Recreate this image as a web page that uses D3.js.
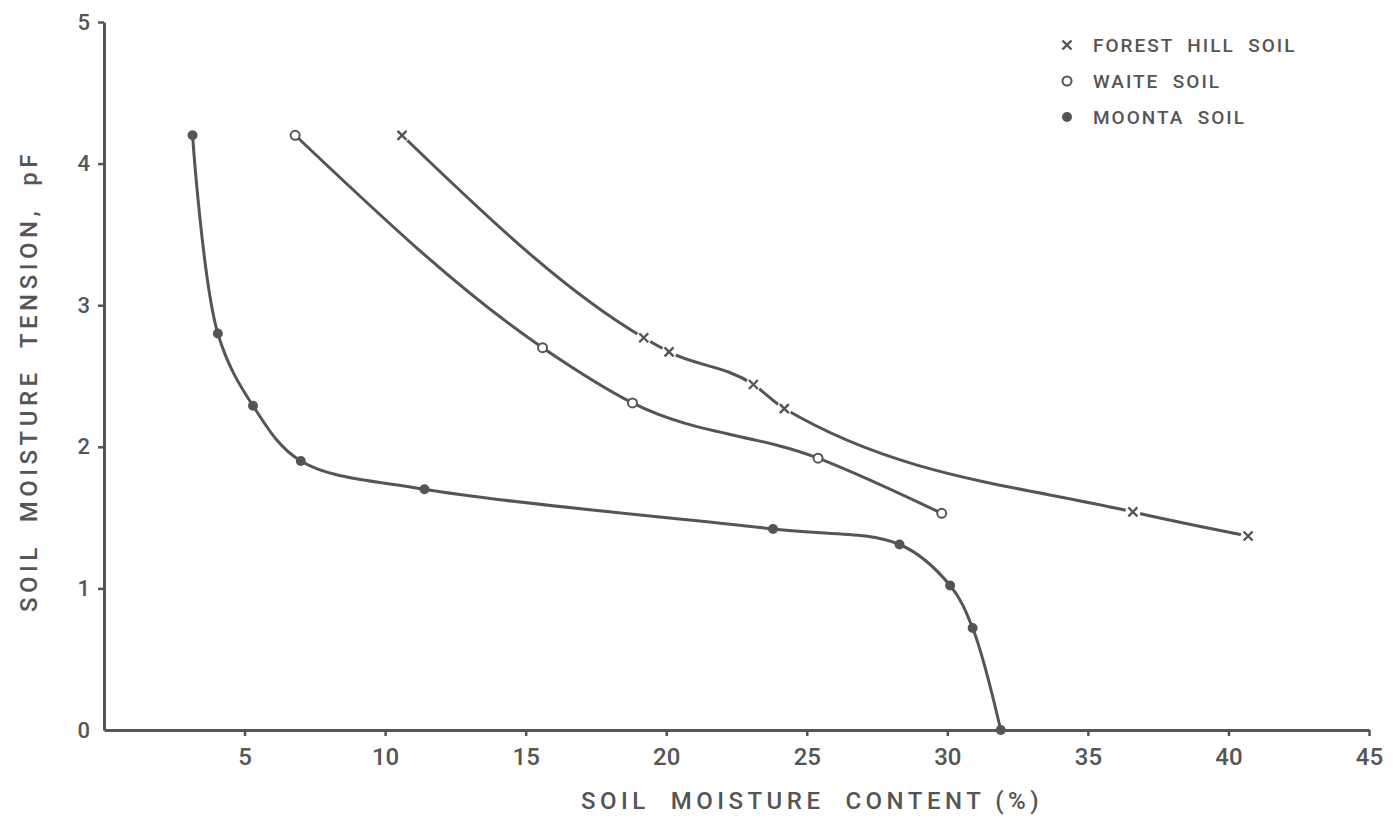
<!DOCTYPE html>
<html>
<head>
    <title>Soil moisture characteristics</title>
    <script src="https://d3js.org/d3.v7.min.js"></script>
    <style>
        html, body {
            margin: 0;
            padding: 0;
            background: #ffffff;
        }
        svg text {
            font-family: Roboto, "DejaVu Sans Condensed", "DejaVu Sans", sans-serif;
            font-weight: 500;
            fill: #555555;
        }
    </style>
</head>
<body>
<div id="chart"></div>
<script>
    // values
    const xTicks = [5, 10, 15, 20, 25, 30, 35, 40, 45];
    const yTicks = [0, 1, 2, 3, 4, 5];

    const forestHillX = [10.6, 19.2, 20.1, 23.1, 24.2, 36.6, 40.7];
    const forestHillY = [4.2, 2.77, 2.67, 2.44, 2.27, 1.54, 1.37];

    const waiteX = [6.8, 15.6, 18.8, 25.4, 29.8];
    const waiteY = [4.2, 2.7, 2.31, 1.92, 1.53];

    const moontaX = [3.15, 4.05, 5.3, 7.0, 11.4, 23.8, 28.3, 30.1, 30.9, 31.9];
    const moontaY = [4.2, 2.8, 2.29, 1.9, 1.7, 1.42, 1.31, 1.02, 0.72, 0.0];

    const legendNames = ["FOREST  HILL  SOIL", "WAITE  SOIL", "MOONTA  SOIL"];

    const width = 1393;
    const height = 839;
    const ink = "#555555";

    const svg = d3.select("#chart")
        .append("svg")
        .attr("width", width)
        .attr("height", height);

    const x = d3.scaleLinear().domain([0, 45]).range([104, 1369]);
    const y = d3.scaleLinear().domain([0, 5]).range([730, 22]);

    // axes
    const xAxis = svg.append("g")
        .attr("transform", `translate(0,${y(0)})`)
        .call(d3.axisBottom(x).tickValues(xTicks).tickFormat(d3.format("d"))
            .tickSize(6).tickPadding(12).tickSizeOuter(0));
    const yAxis = svg.append("g")
        .attr("transform", `translate(${x(0)},0)`)
        .call(d3.axisLeft(y).tickValues(yTicks).tickFormat(d3.format("d"))
            .tickSize(6).tickPadding(8).tickSizeOuter(0));

    [xAxis, yAxis].forEach(g => {
        g.select(".domain").attr("stroke", ink).attr("stroke-width", 3);
        g.selectAll(".tick line").attr("stroke", ink).attr("stroke-width", 2.5);
        g.selectAll(".tick text").attr("fill", ink);
    });
    xAxis.selectAll(".tick text").style("font-size", "24px");
    yAxis.selectAll(".tick text").style("font-size", "22px");
    yAxis.selectAll(".tick").filter(d => d === 0).select("line").remove();

    // axis titles
    svg.append("text")
        .text("SOIL  MOISTURE  CONTENT (%)")
        .attr("x", 812)
        .attr("y", 809)
        .attr("text-anchor", "middle")
        .style("font-size", "24px")
        .style("letter-spacing", "4.5px")
        .style("white-space", "pre");

    svg.append("text")
        .text("SOIL  MOISTURE  TENSION,  pF")
        .attr("transform", "translate(37,381) rotate(-90)")
        .attr("text-anchor", "middle")
        .style("font-size", "24px")
        .style("letter-spacing", "4.5px")
        .style("white-space", "pre");

    // curves
    const smooth = d3.line()
        .x(d => x(d[0]))
        .y(d => y(d[1]))
        .curve(d3.curveMonotoneX);
    const bendy = d3.line()
        .x(d => x(d[0]))
        .y(d => y(d[1]))
        .curve(d3.curveCatmullRom.alpha(0.5));

    const series = [
        { xs: forestHillX, ys: forestHillY, kind: "cross", line: smooth },
        { xs: waiteX, ys: waiteY, kind: "open", line: smooth },
        { xs: moontaX, ys: moontaY, kind: "filled", line: bendy }
    ];

    series.forEach(s => {
        const pts = d3.zip(s.xs, s.ys);
        svg.append("path")
            .datum(pts)
            .attr("d", s.line)
            .attr("fill", "none")
            .attr("stroke", ink)
            .attr("stroke-width", 3);

        const g = svg.append("g");
        pts.forEach(p => drawMarker(g, x(p[0]), y(p[1]), s.kind, true));
    });

    function drawMarker(g, cx, cy, kind, gap) {
        if (kind === "cross") {
            if (gap) {
                g.append("circle").attr("cx", cx).attr("cy", cy).attr("r", 7.5).attr("fill", "#ffffff");
            }
            const r = 4.5;
            g.append("path")
                .attr("d", `M${cx - r},${cy - r}L${cx + r},${cy + r}M${cx - r},${cy + r}L${cx + r},${cy - r}`)
                .attr("stroke", ink)
                .attr("stroke-width", 2.4);
        } else if (kind === "open") {
            g.append("circle")
                .attr("cx", cx).attr("cy", cy).attr("r", 4.5)
                .attr("fill", "#ffffff")
                .attr("stroke", ink)
                .attr("stroke-width", 2);
        } else {
            g.append("circle")
                .attr("cx", cx).attr("cy", cy).attr("r", 5)
                .attr("fill", ink);
        }
    }

    // legend
    const legendY = [45, 81, 117];
    const legend = svg.append("g");
    series.forEach((s, i) => {
        drawMarker(legend, 1067, legendY[i], s.kind, false);
        legend.append("text")
            .text(legendNames[i])
            .attr("x", 1093)
            .attr("y", legendY[i] + 7)
            .style("font-size", "19px")
            .style("letter-spacing", "2px")
            .style("white-space", "pre");
    });
</script>
</body>
</html>
